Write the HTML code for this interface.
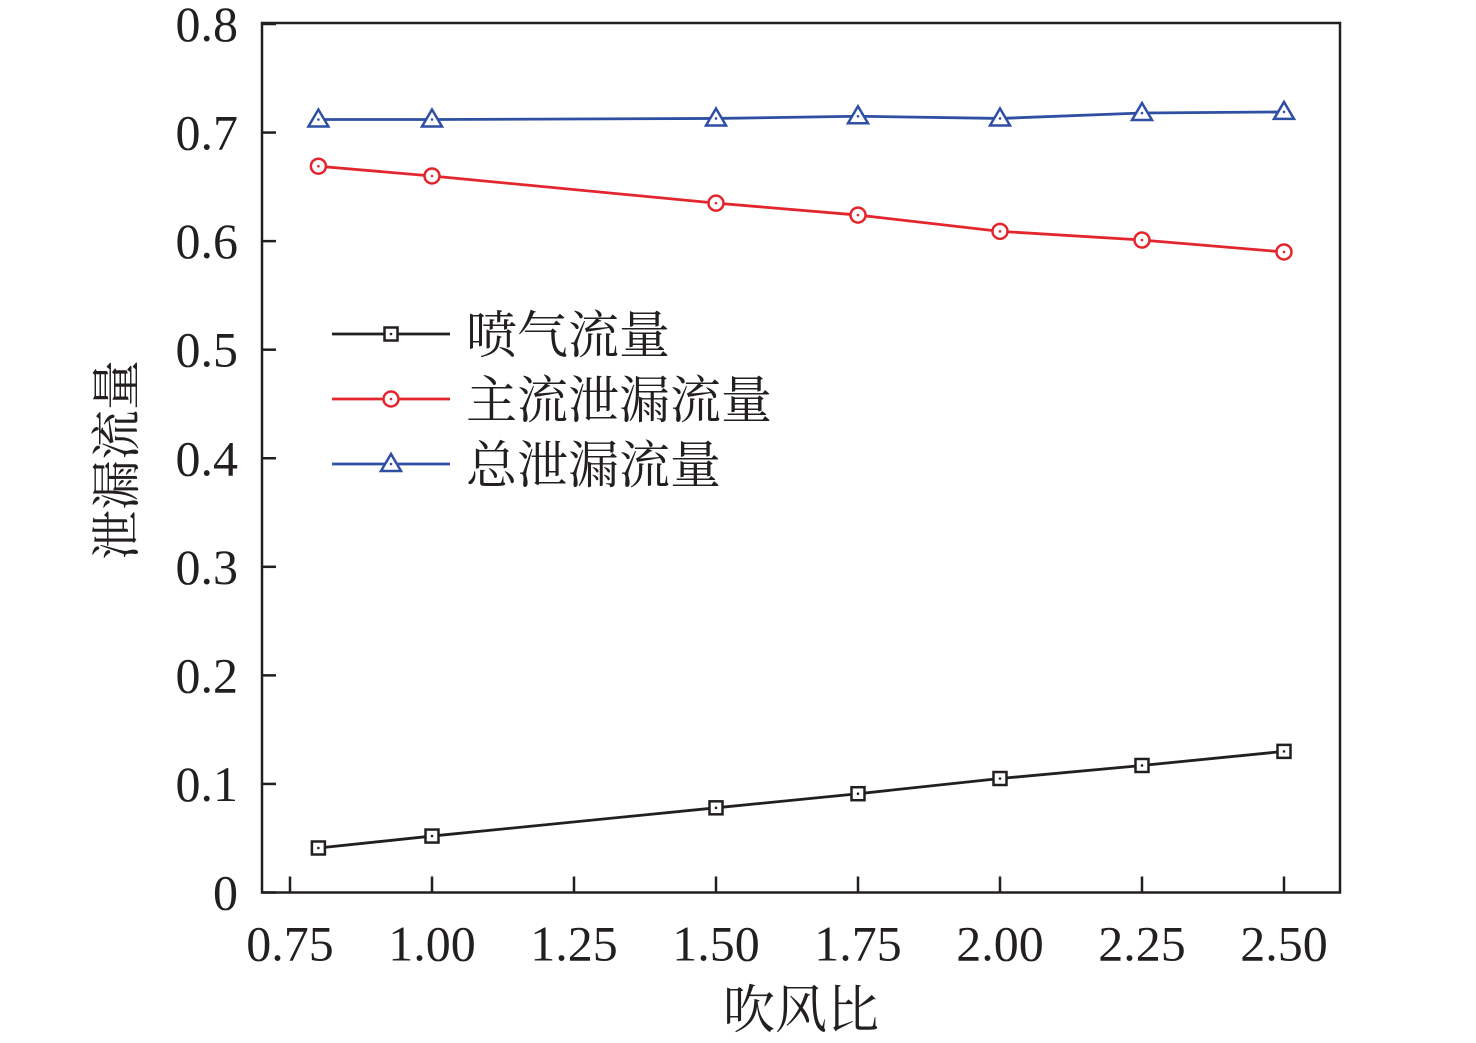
<!DOCTYPE html>
<html><head><meta charset="utf-8"><style>
html,body{margin:0;padding:0;background:#fff;}
svg{display:block;}
text{font-family:"Liberation Serif","Noto Serif CJK SC",serif;fill:#231f20;}
</style></head><body>
<svg id="chart" width="1476" height="1043" viewBox="0 0 1476 1043"></svg>
<script>
const categories=[0.8,1.0,1.5,1.75,2.0,2.25,2.5];
const jetFlow=[0.041,0.052,0.078,0.091,0.105,0.117,0.130];
const mainLeak=[0.669,0.660,0.635,0.624,0.609,0.601,0.590];
const totalLeak=[0.712,0.712,0.713,0.715,0.713,0.718,0.719];
const xTicks=[0.75,1.00,1.25,1.50,1.75,2.00,2.25,2.50];
const yTicks=[0,0.1,0.2,0.3,0.4,0.5,0.6,0.7,0.8];
const seriesNames=["喷气流量","主流泄漏流量","总泄漏流量"];

const NS="http://www.w3.org/2000/svg";
const svg=document.getElementById('chart');
const L=262,R=1340,T=24,B=892.5;
const xMin=0.7007,xMax=2.5986,yMin=0,yMax=0.8;
function xs(v){return L+(v-xMin)/(xMax-xMin)*(R-L);}
function ys(v){return B-(v-yMin)/(yMax-yMin)*(B-T);}
function mk(tag,attrs,parent){const e=document.createElementNS(NS,tag);for(const k in attrs)e.setAttribute(k,attrs[k]);(parent||svg).appendChild(e);return e;}

let frame=mk('rect',{x:L,y:T-1,width:R-L,height:B-T+1,fill:'none',stroke:'#231f20','stroke-width':2.5});



xTicks.forEach(v=>{
  const t=mk('line',{x1:xs(v),x2:xs(v),y1:B,y2:B-16,stroke:'#231f20','stroke-width':2.5});
  
  
  const l=mk('text',{x:xs(v),y:B+68,'text-anchor':'middle','font-size':50});
  l.textContent=v.toFixed(2);
  
  
});
yTicks.forEach(v=>{
  const t=mk('line',{x1:L,x2:L+14,y1:ys(v),y2:ys(v),stroke:'#231f20','stroke-width':2.5});
  
  
  const l=mk('text',{x:L-24,y:ys(v)+17,'text-anchor':'end','font-size':50});
  l.textContent=v===0?'0':v.toFixed(1);
  
  
});
let xt=mk('text',{x:801,y:1028,'text-anchor':'middle','font-size':52});
xt.textContent='吹风比';


let yt=mk('text',{x:0,y:0,'text-anchor':'middle','font-size':50,transform:'translate(134,460) rotate(-90)'});
yt.textContent='泄漏流量';



function marker(type,x,y,color,g){
  if(type==='square'){mk('rect',{x:x-6.5,y:y-6.5,width:13,height:13,fill:'#fff',stroke:color,'stroke-width':2.5},g);}
  else if(type==='circle'){mk('circle',{cx:x,cy:y,r:7.5,fill:'#fff',stroke:color,'stroke-width':2.5},g);}
  else {mk('polygon',{points:`${x},${y-10} ${x-10},${y+7} ${x+10},${y+7}`,fill:'#fff',stroke:color,'stroke-width':2.5},g);}
  mk('circle',{cx:x,cy:y,r:1.3,fill:color},g);
}
const defs=[[jetFlow,'#231f20','square','jet-flow-series'],[mainLeak,'#e3262d','circle','main-leak-series'],[totalLeak,'#2e4fa3','triangle','total-leak-series']];
defs.forEach(([vals,color,type,name])=>{
  const g=mk('g',{});
  
  
  mk('polyline',{points:vals.map((v,i)=>xs(categories[i])+','+ys(v)).join(' '),fill:'none',stroke:color,'stroke-width':2.8},g);
  vals.forEach((v,i)=>marker(type,xs(categories[i]),ys(v),color,g));
});
defs.forEach(([vals,color,type,name],i)=>{
  const g=mk('g',{});
  
  
  const y=334+i*65;
  mk('line',{x1:332,x2:450,y1:y,y2:y,stroke:color,'stroke-width':2.8},g);
  marker(type,391,y,color,g);
  const t=mk('text',{x:466,y:y+19,'font-size':51},g);
  t.textContent=seriesNames[i];
});
</script>
</body></html>
